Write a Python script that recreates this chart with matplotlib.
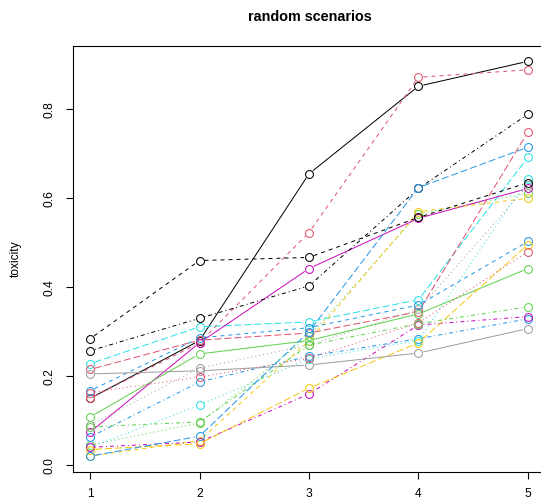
import matplotlib
matplotlib.use("Agg")
import matplotlib.pyplot as plt
import numpy as np

plt.rcParams['font.family'] = ['Liberation Sans', 'DejaVu Sans']

doses = [1, 2, 3, 4, 5]
tick_labels = ["1", "2", "3", "4", "5"]
yticks = [0.0, 0.2, 0.4, 0.6, 0.8]

s01 = [0.150, 0.280, 0.655, 0.852, 0.908]   # black solid
s02 = [0.150, 0.275, 0.523, 0.872, 0.889]   # red dashed
s03 = [0.045, 0.095, 0.290, 0.565, 0.611]   # green dotted
s04 = [0.063, 0.187, 0.245, 0.284, 0.329]   # blue dotdash
s05 = [0.228, 0.311, 0.322, 0.372, 0.692]   # cyan longdash
s06 = [0.074, 0.275, 0.442, 0.555, 0.622]   # magenta solid
s07 = [0.020, 0.055, 0.280, 0.570, 0.600]   # yellow dashed
s08 = [0.090, 0.218, 0.270, 0.350, 0.630]   # gray dotted
s09 = [0.257, 0.330, 0.403, 0.622, 0.789]   # black dotdash
s10 = [0.215, 0.281, 0.297, 0.345, 0.749]   # red longdash
s11 = [0.108, 0.250, 0.280, 0.340, 0.442]   # green solid
s12 = [0.167, 0.286, 0.309, 0.360, 0.503]   # blue dashed
s13 = [0.040, 0.135, 0.239, 0.280, 0.643]   # cyan dotted
s14 = [0.040, 0.052, 0.160, 0.315, 0.334]   # magenta dotdash
s15 = [0.035, 0.048, 0.173, 0.275, 0.496]   # yellow longdash
s16 = [0.205, 0.212, 0.225, 0.252, 0.307]   # gray solid
s17 = [0.284, 0.460, 0.467, 0.557, 0.635]   # black dashed
s18 = [0.163, 0.198, 0.240, 0.320, 0.480]   # red dotted
s19 = [0.086, 0.097, 0.270, 0.318, 0.356]   # green dotdash
s20 = [0.020, 0.065, 0.300, 0.624, 0.715]   # blue longdash

series = [s01, s02, s03, s04, s05, s06, s07, s08, s09, s10,
          s11, s12, s13, s14, s15, s16, s17, s18, s19, s20]

palette = ["#000000", "#DF536B", "#61D04F", "#2297E6",
           "#28E2E5", "#CD0BBC", "#F5C710", "#9E9E9E"]
ltys = [None, (4, 4), (1, 3), (1, 3, 4, 3), (7, 3)]

W, H = 541, 501
fig = plt.figure(figsize=(W / 100, H / 100), dpi=100)
left, right, top, bottom = 72.5, 545.5, 45.5, 472.0
ax = fig.add_axes([left / W, (H - bottom) / H, (right - left) / W, (bottom - top) / H])

allv = np.concatenate([np.array(s) for s in series])
ymin, ymax = allv.min(), allv.max()
yr = ymax - ymin
ax.set_xlim(1 - 0.16, 5 + 0.16)
ax.set_ylim(ymin - 0.04 * yr, ymax + 0.04 * yr)

fig.canvas.draw()
trans = ax.transData
inv = trans.inverted()
gap = 5.0  # px gap around points (type = "b")
lw = 0.72

for i, s in enumerate(series):
    col = palette[i % 8]
    dash = ltys[i % 5]
    pts = trans.transform(np.column_stack([doses, s]))
    for j in range(len(doses) - 1):
        p0, p1 = pts[j], pts[j + 1]
        d = p1 - p0
        L = np.hypot(*d)
        if L <= 2 * gap:
            continue
        u = d / L
        a = inv.transform(p0 + u * gap)
        b = inv.transform(p1 - u * gap)
        ln, = ax.plot([a[0], b[0]], [a[1], b[1]], color=col, lw=lw,
                      solid_capstyle='butt', dash_capstyle='butt')
        if dash is not None:
            ln.set_dashes(dash)
    ax.plot(doses, s, linestyle='none', marker='o', markersize=5.7,
            markerfacecolor='none', markeredgecolor=col, markeredgewidth=0.75)

for sp in ax.spines.values():
    sp.set_linewidth(0.8)
    sp.set_color('black')

ax.set_xticks(doses)
ax.set_xticklabels(tick_labels)
ax.set_yticks(yticks)
ax.set_yticklabels(["%.1f" % v for v in yticks], rotation=90, va='center')
ax.tick_params(direction='out', length=5, width=0.8, labelsize=8.64)
ax.tick_params(axis='x', pad=6.5)
ax.tick_params(axis='y', pad=7)

ax.set_ylabel("toxicity", fontsize=8.64, labelpad=16)
fig.text(0.572, 1 - 17 / H, "random scenarios", ha='center', va='center',
         fontsize=10.4, fontweight='bold')

fig.savefig("out.png", dpi=100)
